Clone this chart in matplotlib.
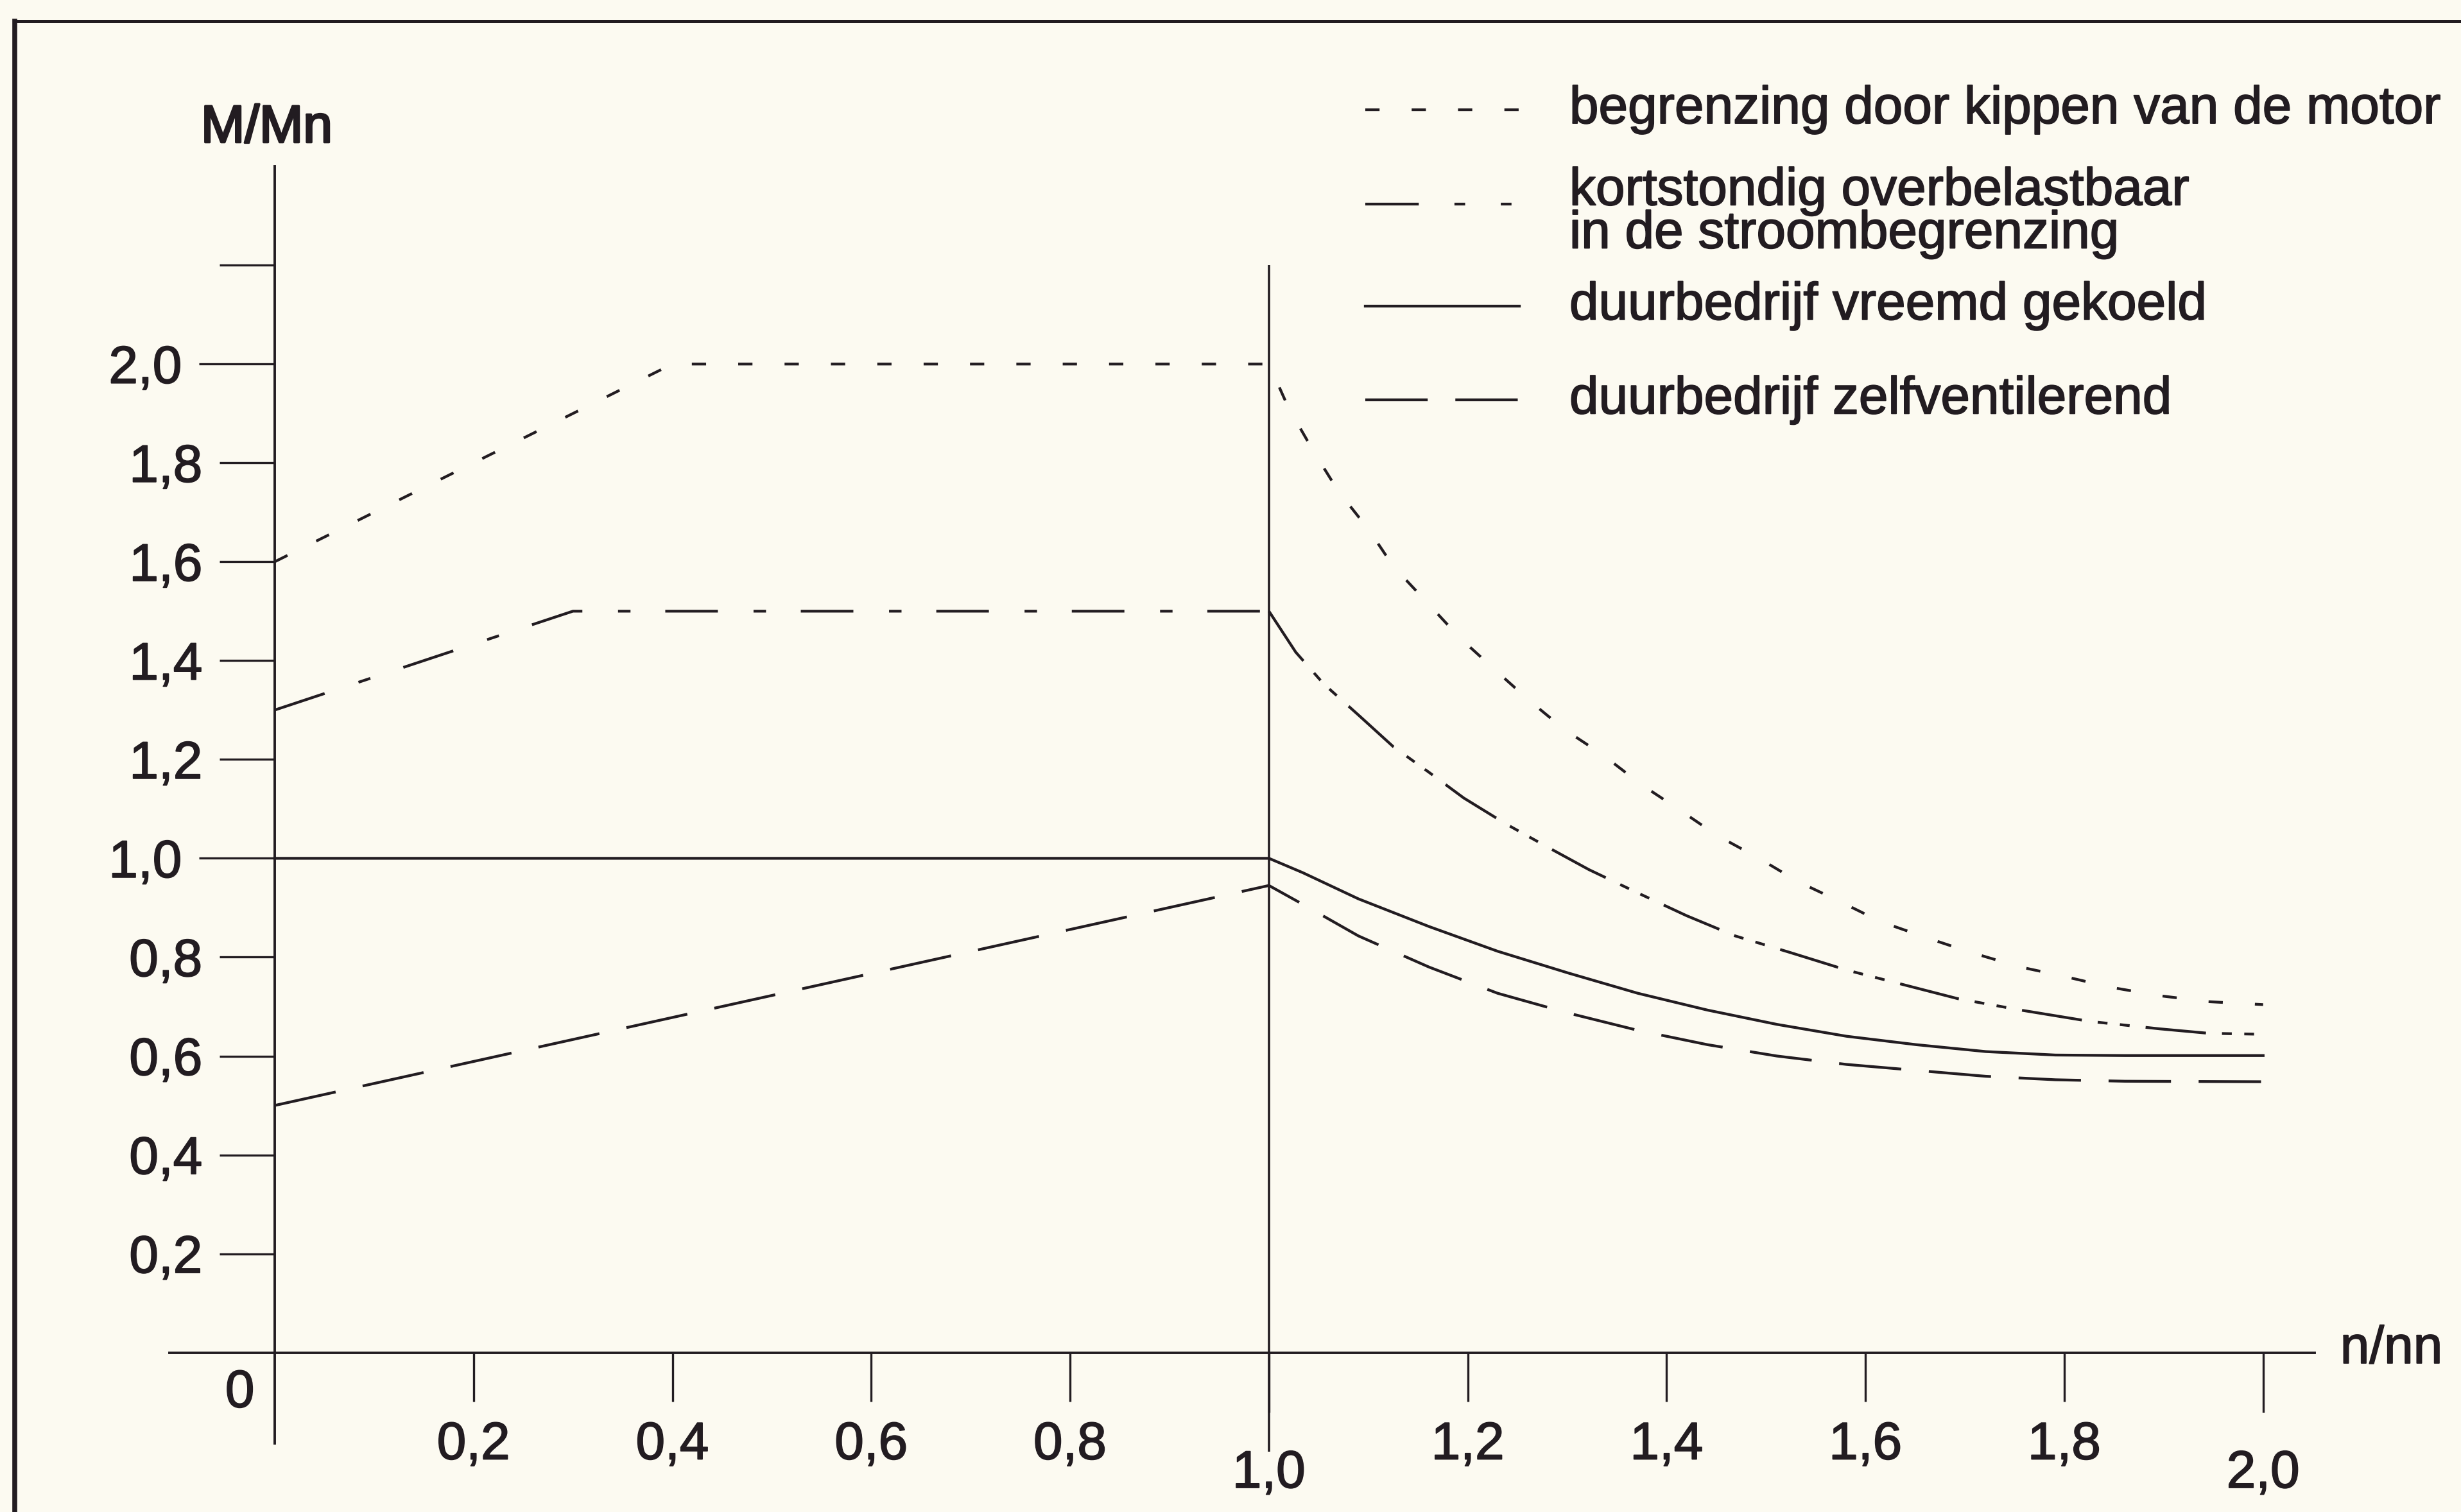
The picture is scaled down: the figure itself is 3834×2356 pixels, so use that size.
import matplotlib.pyplot as plt
import matplotlib.patheffects as pe
from matplotlib.lines import Line2D

plt.rcParams['font.family'] = ['Liberation Sans', 'DejaVu Sans']
plt.rcParams['lines.scale_dashes'] = False

INK = '#221c21'
PAPER = '#fcfaf1'

# begrenzing door kippen van de motor
kip_x = [0.0, 0.4, 1.0, 1.02, 1.045, 1.07, 1.10, 1.125, 1.157, 1.192, 1.227, 1.262, 1.297,
         1.336, 1.374, 1.413, 1.451, 1.493, 1.532, 1.574, 1.615, 1.665, 1.707, 1.756,
         1.798, 1.847, 1.896, 1.945, 2.0]
kip_y = [1.6, 2.0, 2.0, 1.91, 1.823, 1.742, 1.666, 1.591, 1.522, 1.446, 1.382, 1.319, 1.261,
         1.209, 1.15, 1.098, 1.046, 1.0, 0.953, 0.913, 0.872, 0.837, 0.809, 0.78,
         0.762, 0.739, 0.722, 0.71, 0.704]

# kortstondig overbelastbaar (voor en na n/nn = 1)
kort_x1 = [0.0, 0.3, 1.0]
kort_y1 = [1.3, 1.5, 1.5]
kort_x2 = [1.0, 1.027, 1.055, 1.09, 1.125, 1.161, 1.196, 1.238, 1.28, 1.322, 1.371, 1.42,
           1.469, 1.525, 1.581, 1.637, 1.693, 1.756, 1.826, 1.896, 1.945, 2.0]
kort_y2 = [1.5, 1.417, 1.353, 1.29, 1.226, 1.174, 1.122, 1.07, 1.023, 0.977, 0.93, 0.884,
           0.843, 0.809, 0.774, 0.745, 0.716, 0.693, 0.67, 0.655, 0.646, 0.644]

# duurbedrijf vreemd gekoeld
vreemd_x = [0.0, 1.0, 1.034, 1.09, 1.161, 1.23, 1.301, 1.371, 1.441, 1.511, 1.581, 1.651,
            1.721, 1.791, 1.861, 2.0]
vreemd_y = [1.0, 1.0, 0.971, 0.918, 0.862, 0.812, 0.768, 0.727, 0.693, 0.664, 0.64, 0.623,
            0.609, 0.602, 0.601, 0.601]

# duurbedrijf zelfventilerend
zelf_x = [0.0, 1.0, 1.034, 1.09, 1.161, 1.23, 1.301, 1.371, 1.441, 1.511, 1.581, 1.651,
          1.721, 1.791, 1.861, 2.0]
zelf_y = [0.5, 0.945, 0.907, 0.843, 0.78, 0.727, 0.687, 0.652, 0.623, 0.6, 0.583, 0.571,
          0.559, 0.552, 0.549, 0.548]

x_major = [1.0, 2.0]
x_minor = [0.2, 0.4, 0.6, 0.8, 1.2, 1.4, 1.6, 1.8]
y_major = [1.0, 2.0]
y_minor = [0.2, 0.4, 0.6, 0.8, 1.2, 1.4, 1.6, 1.8, 2.2]

legend_labels = ['begrenzing door kippen van de motor',
                 'kortstondig overbelastbaar\nin de stroombegrenzing',
                 'duurbedrijf vreemd gekoeld',
                 'duurbedrijf zelfventilerend']

def fmt(v):
    return f'{v:.1f}'.replace('.', ',')

# line styles (points, unscaled)
DOT = (0, (16, 36))
DASHDOT_L = (0, (59, 40, 14, 39))
DASHDOT_R = (0, (68, 18, 11, 14, 11, 18))
DASHDOT_LEG = (0, (60, 40, 12, 40, 12, 43))
DASH = (0, (70, 31))
LW = 3.1
FS = 59
# scan look: slightly heavier text
HEAVY = [pe.withStroke(linewidth=1.3, foreground=INK)]

fig = plt.figure(figsize=(38.34, 23.56), dpi=100, facecolor=PAPER)
ax = fig.add_axes([0, 0, 1, 1])
ax.set_facecolor(PAPER)
ax.set_xlim(-0.2763, 2.199)
ax.set_ylim(-0.3225, 2.7365)

ax.plot(kip_x, kip_y, color=INK, lw=LW, ls=DOT)
ax.plot(kort_x1, kort_y1, color=INK, lw=LW, ls=DASHDOT_L)
ax.plot(kort_x2, kort_y2, color=INK, lw=LW, ls=DASHDOT_R)
ax.plot(vreemd_x, vreemd_y, color=INK, lw=LW, ls='-')
ax.plot(zelf_x, zelf_y, color=INK, lw=LW, ls=DASH)

# vertical reference at n/nn = 1
ax.vlines(1.0, -0.2, 2.2, color=INK, lw=2.6)

# axes through origin
for s in ['top', 'right']:
    ax.spines[s].set_visible(False)
ax.spines['left'].set_position(('data', 0))
ax.spines['bottom'].set_position(('data', 0))
ax.spines['left'].set_bounds(-0.184, 2.40)
ax.spines['bottom'].set_bounds(-0.106, 2.052)
for s in ['left', 'bottom']:
    ax.spines[s].set_color(INK)
    ax.spines[s].set_linewidth(2.8)

ax.set_yticks(y_major)
ax.set_yticks(y_minor, minor=True)
ax.set_yticklabels([fmt(v) for v in y_major])
ax.set_yticklabels([fmt(v) if v < 2.1 else '' for v in y_minor], minor=True)
ax.tick_params(axis='y', which='major', direction='out', length=85, width=2.4,
               pad=19, labelsize=FS, colors=INK)
ax.tick_params(axis='y', which='minor', direction='out', length=62, width=2.4,
               pad=19, labelsize=FS, colors=INK)

ax.set_xticks(x_major)
ax.set_xticks(x_minor, minor=True)
ax.set_xticklabels([fmt(v) for v in x_major])
ax.set_xticklabels([fmt(v) for v in x_minor], minor=True)
ax.tick_params(axis='x', which='major', direction='out', length=67, width=2.4,
               pad=42, labelsize=FS, colors=INK)
ax.tick_params(axis='x', which='minor', direction='out', length=55, width=2.4,
               pad=22, labelsize=FS, colors=INK)

for lab in ax.get_xticklabels(which='both') + ax.get_yticklabels(which='both'):
    lab.set_path_effects(HEAVY)

ax.text(-0.035, -0.083, '0', fontsize=FS, color=INK, ha='center', va='center',
        path_effects=HEAVY)
ax.text(-0.008, 2.476, 'M/Mn', fontsize=FS, color=INK, ha='center', va='center',
        path_effects=[pe.withStroke(linewidth=2.4, foreground=INK)])
ax.text(2.129, 0.006, 'n/nn', fontsize=FS, color=INK, ha='center', va='center',
        path_effects=HEAVY)

# legend drawn by hand (axes fraction)
leg_styles = [DOT, DASHDOT_LEG, '-', DASH]
leg_rows = [0.9274, 0.8651, 0.7976, 0.7354]
for st, yy, lab in zip(leg_styles, leg_rows, legend_labels):
    ax.add_line(Line2D([0.5548, 0.6173], [yy, yy], transform=ax.transAxes,
                       color=INK, lw=LW, ls=st))
    ty = yy - 0.006 if '\n' in lab else yy
    ax.text(0.6377, ty, lab, transform=ax.transAxes, fontsize=FS, color=INK,
            ha='left', va='center', linespacing=0.85, path_effects=HEAVY)

# scan frame
fig.add_artist(Line2D([0.006, 1.0], [0.986, 0.986], color=INK, lw=3.6))
fig.add_artist(Line2D([0.006, 0.006], [0.0, 0.986], color=INK, lw=5.5))

fig.savefig('out.png', dpi=100, facecolor=PAPER)
